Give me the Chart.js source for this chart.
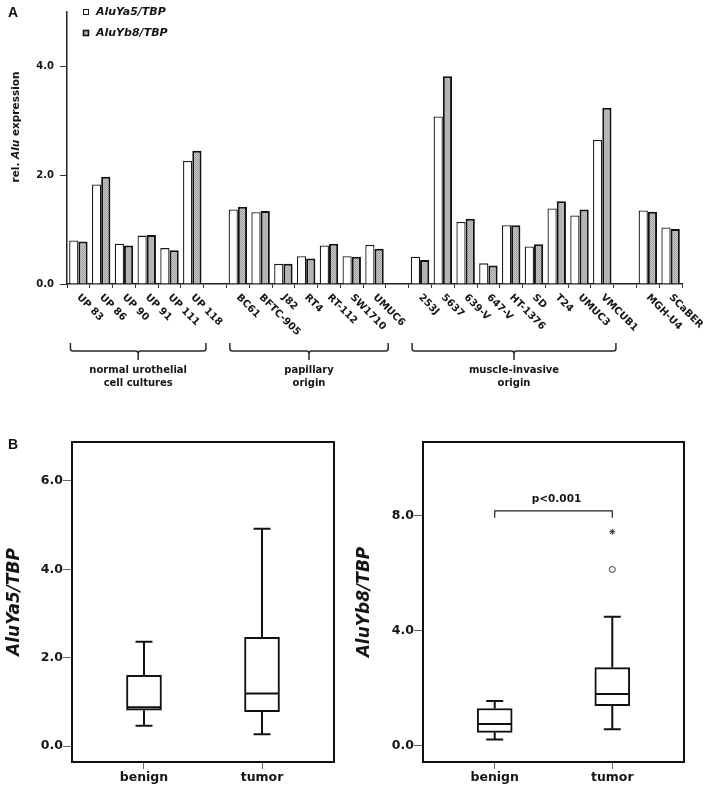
<!DOCTYPE html>
<html><head><meta charset="utf-8">
<script src="https://cdn.jsdelivr.net/npm/chart.js@4.4.1/dist/chart.umd.min.js"></script>
<style>
html,body{margin:0;padding:0;background:#fff;}
#wrap{position:relative;width:708px;height:791px;overflow:hidden;background:#fff;}
canvas{position:absolute;}
.lbl{position:absolute;font:bold 14px "Liberation Sans",Arial,sans-serif;line-height:14px;color:#111;}
</style></head><body>
<div id="wrap">
<canvas id="cA" width="708" height="400" style="left:0;top:0"></canvas>
<canvas id="cB1" width="354" height="371" style="left:0;top:420px"></canvas>
<canvas id="cB2" width="354" height="371" style="left:354px;top:420px"></canvas>
<div class="lbl" style="left:8px;top:5px">A</div>
<div class="lbl" style="left:8px;top:437px">B</div>
</div>
<script>
// ---------- Panel A data ----------
const categories = ['UP 83','UP 86','UP 90','UP 91','UP 111','UP 118','',
  'BC61','BFTC-905','J82','RT4','RT-112','SW1710','UMUC6','',
  '253J','5637','639-V','647-V','HT-1376','SD','T24','UMUC3','VMCUB1','',
  'MGH-U4','SCaBER'];
const aluYa5 = [0.80,1.83,0.74,0.89,0.66,2.26,null,1.37,1.32,0.37,0.51,0.71,0.51,0.72,null,0.50,3.08,1.14,0.38,1.08,0.69,1.39,1.26,2.65,null,1.35,1.04];
const aluYb8 = [0.78,1.97,0.71,0.90,0.62,2.45,null,1.42,1.34,0.37,0.47,0.74,0.50,0.65,null,0.44,3.82,1.20,0.34,1.08,0.73,1.52,1.37,3.24,null,1.33,1.01];
const yTicksA = [0, 2, 4];
const groupNames = [['normal urothelial','cell cultures'], ['papillary','origin'], ['muscle-invasive','origin']];
const groupFirst = ['UP 83', 'BC61', '253J'];
const groupLast = ['UP 118', 'UMUC6', 'VMCUB1'];

// ---------- Panel B data ----------
const boxGroups = ['benign', 'tumor'];
const ya5Min = [0.46, 0.27];
const ya5Q1 = [0.81, 0.78];
const ya5Median = [0.88, 1.19];
const ya5Q3 = [1.60, 2.46];
const ya5Max = [2.36, 4.92];
const ya5Ticks = [0, 2, 4, 6];

const yb8Min = [0.22, 0.58];
const yb8Q1 = [0.47, 1.40];
const yb8Median = [0.76, 1.80];
const yb8Q3 = [1.30, 2.72];
const yb8Max = [1.56, 4.49];
const yb8Outliers = [null, 6.13];
const yb8Extremes = [null, 7.44];
const yb8Ticks = [0, 4, 8];
const sigLabel = 'p<0.001';

const FF = '"DejaVu Sans", Verdana, sans-serif';
const INK = '#151515';

// gray dotted fill
const grayPat = (() => {
  const c = document.createElement('canvas'); c.width = 2; c.height = 2;
  const x = c.getContext('2d');
  x.fillStyle = '#c6c6c6'; x.fillRect(0, 0, 2, 2);
  x.fillStyle = '#a2a2a2'; x.fillRect(0, 0, 1, 1); x.fillRect(1, 1, 1, 1);
  return document.getElementById('cA').getContext('2d').createPattern(c, 'repeat');
})();

const panelAPlugin = {
  id: 'panelA',
  afterDraw(chart) {
    const ctx = chart.ctx;
    const xs = chart.scales.x;
    ctx.save();
    // legend
    const ds = chart.data.datasets;
    const legY = [12, 33];
    ds.forEach((d, i) => {
      ctx.fillStyle = d.backgroundColor;
      ctx.fillRect(83, legY[i] - 3, 6, 6);
      ctx.strokeStyle = d.borderColor;
      ctx.lineWidth = i === 0 ? 1 : 1.6;
      ctx.strokeRect(83.5, legY[i] - 2.5, 5, 5);
      ctx.fillStyle = INK;
      ctx.font = 'italic bold 11px ' + FF;
      ctx.textAlign = 'left'; ctx.textBaseline = 'middle';
      ctx.fillText(d.label, 96, legY[i]);
    });
    // y title with italic Alu
    ctx.translate(16, 127); ctx.rotate(-Math.PI / 2);
    const parts = [['rel. ', 'bold 10.5px ' + FF], ['Alu', 'italic bold 10.5px ' + FF], [' expression', 'bold 10.5px ' + FF]];
    let tot = 0;
    parts.forEach(p => { ctx.font = p[1]; tot += ctx.measureText(p[0]).width; });
    let px = -tot / 2;
    ctx.textBaseline = 'middle'; ctx.textAlign = 'left'; ctx.fillStyle = INK;
    parts.forEach(p => { ctx.font = p[1]; ctx.fillText(p[0], px, 0); px += ctx.measureText(p[0]).width; });
    ctx.restore();

    // rotated x labels
    ctx.save();
    ctx.font = 'bold 10px ' + FF; ctx.fillStyle = INK;
    ctx.textAlign = 'left'; ctx.textBaseline = 'middle';
    const by = xs.top;
    categories.forEach((c, i) => {
      if (!c) return;
      const x = xs.getPixelForValue(i);
      ctx.save();
      ctx.translate(x, by + 12);
      ctx.rotate(Math.PI / 4);
      ctx.fillText(c, 0, 0);
      ctx.restore();
    });
    ctx.restore();

    // brackets
    ctx.save();
    ctx.strokeStyle = '#2a2a2a'; ctx.lineWidth = 1.5;
    ctx.font = 'bold 10px ' + FF; ctx.fillStyle = INK;
    ctx.textAlign = 'center'; ctx.textBaseline = 'middle';
    groupNames.forEach((g, k) => {
      const i0 = categories.indexOf(groupFirst[k]);
      const i1 = categories.indexOf(groupLast[k]);
      const x0 = xs.getPixelForValue(i0 - 0.35);
      const x1 = xs.getPixelForValue(i1 + 0.6);
      const cx = (x0 + x1) / 2;
      const yT = 343, yH = 351, yB = 360, r = 2.5;
      ctx.beginPath();
      ctx.moveTo(x0, yT); ctx.lineTo(x0, yH - r);
      ctx.quadraticCurveTo(x0, yH, x0 + r, yH);
      ctx.lineTo(cx - r, yH);
      ctx.quadraticCurveTo(cx, yH, cx, yH + r);
      ctx.lineTo(cx, yB);
      ctx.moveTo(cx, yH + r);
      ctx.quadraticCurveTo(cx, yH, cx + r, yH);
      ctx.lineTo(x1 - r, yH);
      ctx.quadraticCurveTo(x1, yH, x1, yH - r);
      ctx.lineTo(x1, yT);
      ctx.stroke();
      ctx.fillText(g[0], cx, 370.5);
      ctx.fillText(g[1], cx, 383);
    });
    ctx.restore();
  }
};

new Chart(document.getElementById('cA'), {
  type: 'bar',
  data: {
    labels: categories,
    datasets: [
      { label: 'AluYa5/TBP', data: aluYa5, backgroundColor: '#ffffff', borderColor: '#1a1a1a', borderWidth: 1.3,
        categoryPercentage: 0.81, barPercentage: 1.0 },
      { label: 'AluYb8/TBP', data: aluYb8, backgroundColor: grayPat, borderColor: '#111', borderWidth: 2,
        categoryPercentage: 0.81, barPercentage: 1.0 }
    ]
  },
  options: {
    responsive: false, animation: false, devicePixelRatio: 1,
    layout: { padding: { top: 5, right: 26, left: 0, bottom: 0 } },
    plugins: { legend: { display: false }, tooltip: { enabled: false } },
    scales: {
      x: {
        grid: { offset: true, drawOnChartArea: false, drawTicks: true, tickLength: 4, color: '#333', lineWidth: 1 },
        border: { color: '#222', width: 1.5 },
        ticks: { display: false },
        afterFit(s) { s.height = 116; }
      },
      y: {
        min: 0, max: 5,
        afterBuildTicks(s) { s.ticks = yTicksA.map(v => ({ value: v })); },
        ticks: { callback: v => Number(v).toFixed(1), font: { family: FF, weight: 'bold', size: 10 }, color: INK, padding: 6 },
        grid: { drawOnChartArea: false, tickLength: 7, color: '#333', lineWidth: 1 },
        border: { color: '#222', width: 1.5 },
        afterFit(s) { s.width = 67; }
      }
    }
  },
  plugins: [panelAPlugin]
});

// ---------- Box plots ----------
function boxPlugin(stats, sig) {
  return {
    id: 'boxdraw',
    afterDatasetsDraw(chart) {
      const ctx = chart.ctx, xs = chart.scales.x, ys = chart.scales.y, ca = chart.chartArea;
      const [mn, q1, md, q3, mx] = stats;
      ctx.save();
      ctx.strokeStyle = '#111'; ctx.lineWidth = 2; ctx.lineCap = 'butt';
      boxGroups.forEach((g, i) => {
        const x = xs.getPixelForValue(i + 1);
        const half = 17.5, cap = 8.5;
        ctx.beginPath();
        ctx.moveTo(x, ys.getPixelForValue(q3[i])); ctx.lineTo(x, ys.getPixelForValue(mx[i]));
        ctx.moveTo(x - cap, ys.getPixelForValue(mx[i])); ctx.lineTo(x + cap, ys.getPixelForValue(mx[i]));
        ctx.moveTo(x, ys.getPixelForValue(q1[i])); ctx.lineTo(x, ys.getPixelForValue(mn[i]));
        ctx.moveTo(x - cap, ys.getPixelForValue(mn[i])); ctx.lineTo(x + cap, ys.getPixelForValue(mn[i]));
        ctx.moveTo(x - half + 1, ys.getPixelForValue(md[i])); ctx.lineTo(x + half - 1, ys.getPixelForValue(md[i]));
        ctx.stroke();
      });
      // frame
      ctx.lineWidth = 2;
      ctx.strokeRect(ca.left, ca.top, ca.right - ca.left, ca.bottom - ca.top);
      if (sig) {
        const x0 = xs.getPixelForValue(1), x1 = xs.getPixelForValue(2);
        const yh = ys.getPixelForValue(8.17), yl = ys.getPixelForValue(7.93);
        ctx.lineWidth = 1.2; ctx.strokeStyle = '#222';
        ctx.beginPath();
        ctx.moveTo(x0, yl); ctx.lineTo(x0, yh); ctx.lineTo(x1, yh); ctx.lineTo(x1, yl);
        ctx.stroke();
        ctx.font = 'bold 10.5px ' + FF; ctx.fillStyle = INK;
        ctx.textAlign = 'center'; ctx.textBaseline = 'middle';
        ctx.fillText(sig, (x0 + x1) / 2 + 3, ys.getPixelForValue(8.58));
      }
      ctx.restore();
    }
  };
}

function boxChart(id, title, stats, outl, ext, yMin, yMax, yTicks, padRight, yWidth, titlePad, sig) {
  const [mn, q1, md, q3, mx] = stats;
  const toPts = arr => arr.map((v, i) => v == null ? null : { x: i + 1, y: v }).filter(p => p);
  return new Chart(document.getElementById(id), {
    type: 'bar',
    data: {
      datasets: [
        { type: 'bar', data: boxGroups.map((g, i) => ({ x: i + 1, y: [q1[i], q3[i]] })),
          backgroundColor: '#ffffff', borderColor: '#111', borderWidth: 2, borderSkipped: false, barThickness: 35 },
        { type: 'scatter', data: toPts(outl), pointStyle: 'circle', radius: 3, borderColor: '#333', backgroundColor: '#fff', borderWidth: 1 },
        { type: 'scatter', data: toPts(ext), pointStyle: 'star', radius: 3, borderColor: '#333', borderWidth: 1 }
      ]
    },
    options: {
      responsive: false, animation: false, devicePixelRatio: 1,
      layout: { padding: { top: 22, right: padRight, left: 0, bottom: 0 } },
      plugins: { legend: { display: false }, tooltip: { enabled: false } },
      scales: {
        x: {
          type: 'linear', min: 0.39, max: 2.61, offset: false,
          afterBuildTicks(s) { s.ticks = boxGroups.map((g, i) => ({ value: i + 1 })); },
          ticks: { callback: v => boxGroups[Math.round(v) - 1] || '', font: { family: FF, weight: 'bold', size: 12.5 }, color: INK, padding: 1 },
          grid: { offset: false, drawOnChartArea: false, tickLength: 7, color: '#666', lineWidth: 1 },
          border: { display: false },
          afterFit(s) { s.height = 29; }
        },
        y: {
          min: yMin, max: yMax,
          afterBuildTicks(s) { s.ticks = yTicks.map(v => ({ value: v })); },
          ticks: { callback: v => Number(v).toFixed(1), font: { family: FF, weight: 'bold', size: 12.5 }, color: INK, padding: 0 },
          grid: { drawOnChartArea: false, tickLength: 9, color: '#666', lineWidth: 1 },
          border: { display: false },
          title: { display: true, text: title, color: INK, font: { family: FF, size: 17, weight: 'bold', style: 'italic' }, padding: { top: titlePad, bottom: 0 } },
          afterFit(s) { s.width = yWidth; }
        }
      }
    },
    plugins: [boxPlugin(stats, sig)]
  });
}

boxChart('cB1', 'AluYa5/TBP', [ya5Min, ya5Q1, ya5Median, ya5Q3, ya5Max], [null, null], [null, null],
  -0.36, 6.88, ya5Ticks, 20, 72, 4, null);
boxChart('cB2', 'AluYb8/TBP', [yb8Min, yb8Q1, yb8Median, yb8Q3, yb8Max], yb8Outliers, yb8Extremes,
  -0.56, 10.56, yb8Ticks, 24, 69, 0, sigLabel);
</script>
</body></html>
